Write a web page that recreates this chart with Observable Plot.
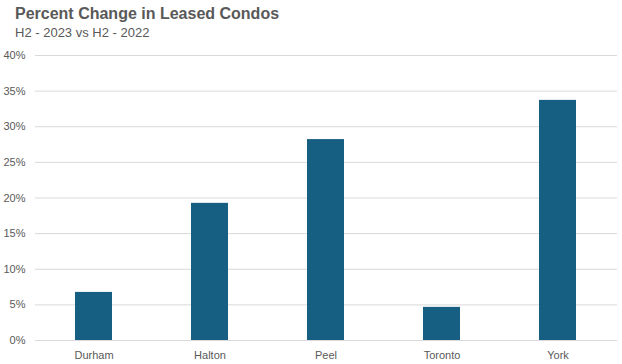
<!DOCTYPE html>
<html>
<head>
<meta charset="utf-8">
<script src="https://cdn.jsdelivr.net/npm/d3@7"></script>
<script src="https://cdn.jsdelivr.net/npm/@observablehq/plot@0.6"></script>
<style>
  body { margin: 0; background: #fff; width: 622px; height: 364px; overflow: hidden; font-family: "Liberation Sans", Arial, sans-serif; }
  #head { position: relative; height: 48px; }
  #title { position: absolute; left: 15px; top: 5px; font-size: 16px; font-weight: bold; color: #595959; white-space: nowrap; }
  #subtitle { position: absolute; left: 15px; top: 25px; font-size: 13px; color: #595959; white-space: nowrap; }
  #chart svg { display: block; overflow: visible; }
</style>
</head>
<body>
<div id="head">
  <div id="title">Percent Change in Leased Condos</div>
  <div id="subtitle">H2 - 2023 vs H2 - 2022</div>
</div>
<div id="chart"></div>
<script>
const regions = ["Durham", "Halton", "Peel", "Toronto", "York"];
const changes = [6.75, 19.25, 28.2, 4.65, 33.7];
const yTicks = [0, 5, 10, 15, 20, 25, 30, 35, 40];

const data = regions.map((r, i) => ({region: r, value: changes[i]}));

const chart = Plot.plot({
  width: 622,
  height: 316,
  marginTop: 7,
  marginBottom: 24,
  marginLeft: 35,
  marginRight: 5,
  style: {fontFamily: "Liberation Sans, Arial, sans-serif", fontSize: "11px", color: "#595959", background: "#fff"},
  x: {domain: regions, paddingInner: 0.68, paddingOuter: 0.34, label: null, tickSize: 0, tickPadding: 11},
  y: {domain: [0, 40], ticks: yTicks, tickFormat: d => d + "%", label: null, tickSize: 0, tickPadding: 10},
  marks: [
    Plot.gridY(yTicks, {stroke: "#d9d9d9", strokeOpacity: 1, strokeWidth: 1}),
    Plot.barY(data, {x: "region", y: "value", fill: "#175f82"}),
    Plot.axisY(yTicks, {tickSize: 0, tickPadding: 10, tickFormat: d => d + "%", fill: "#595959", label: null}),
    Plot.axisX({tickSize: 0, tickPadding: 11, fill: "#595959", label: null})
  ]
});
document.getElementById("chart").appendChild(chart);
</script>
</body>
</html>
